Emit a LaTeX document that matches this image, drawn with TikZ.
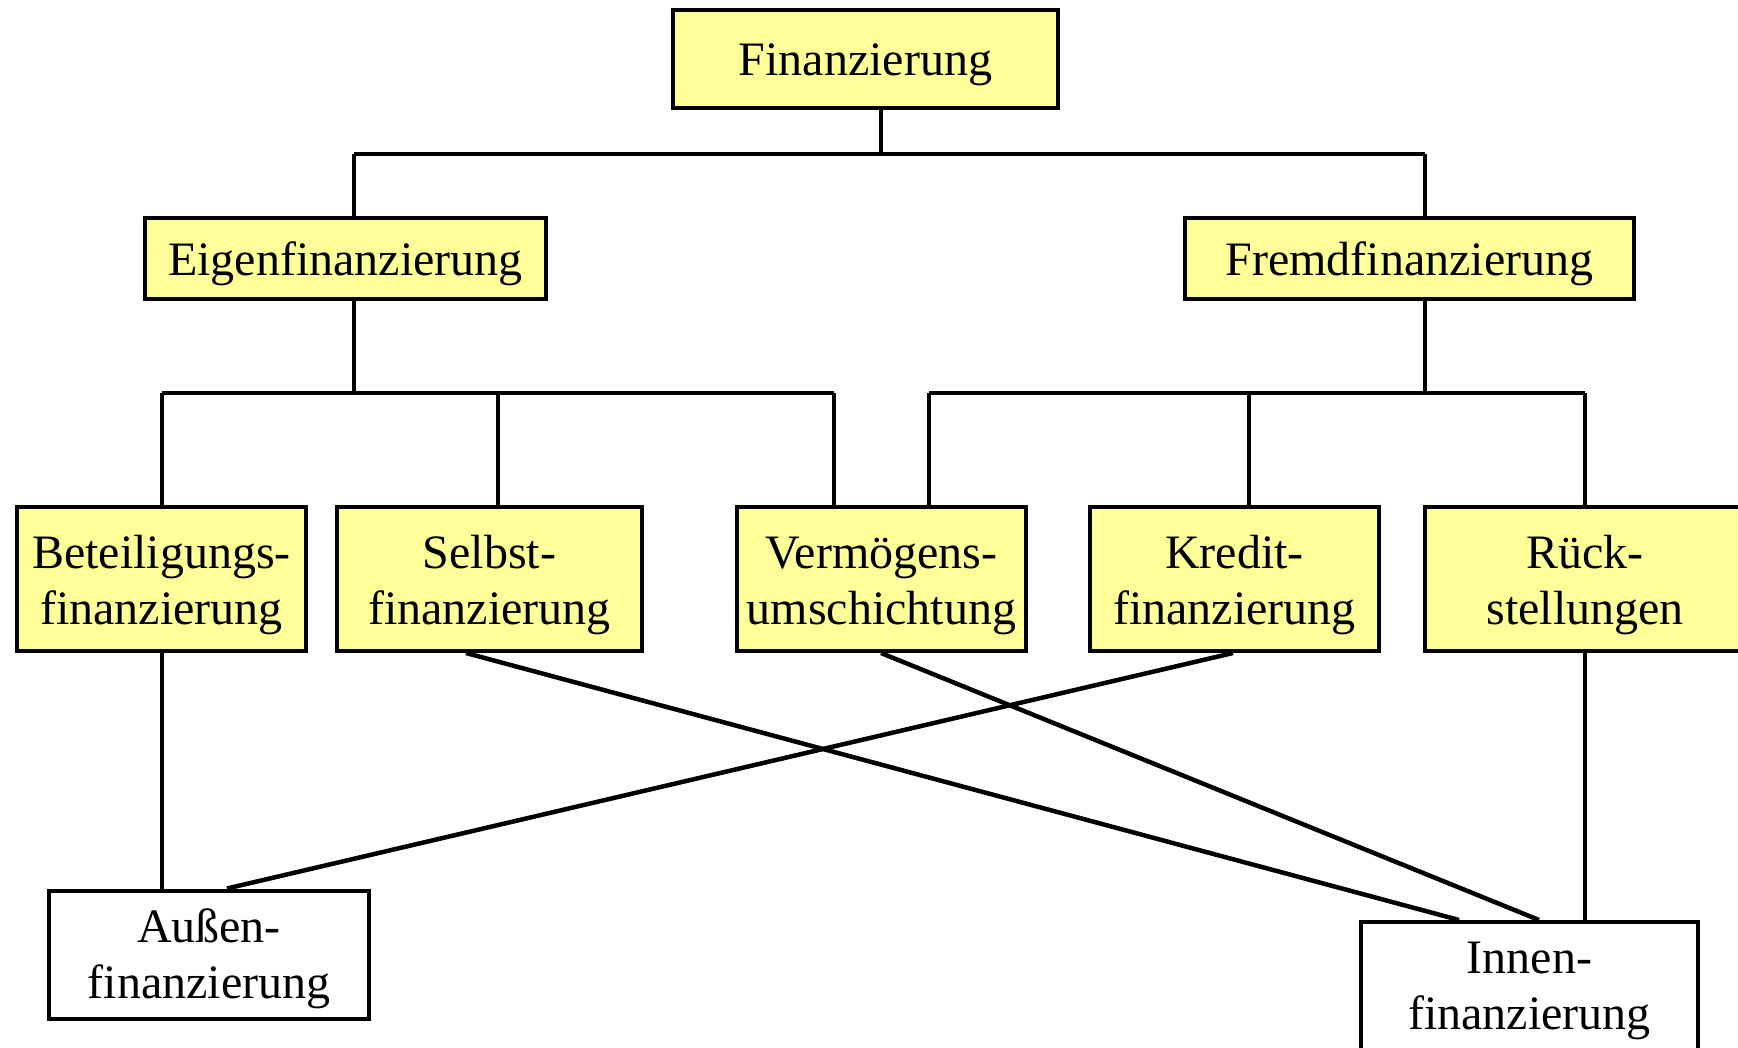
\documentclass[tikz,border=0pt]{standalone}
\usepackage{fontspec}
\setmainfont{Liberation Serif}
\definecolor{boxyellow}{RGB}{255,255,153}
\begin{document}
\begin{tikzpicture}[x=1pt,y=-1pt,
  box/.style={draw=black,line width=4pt,fill=boxyellow,inner sep=0pt,
    align=center,font=\fontsize{48}{56}\selectfont},
  oneline/.style={text height=44.4pt,text depth=10.4pt},
  twoline/.style={text height=100.4pt,text depth=10.4pt},
  plainbox/.style={box,fill=white,text height=97.4pt,text depth=10.4pt},
  tree/.style={line width=3.5pt},
  cross/.style={line width=4.5pt}]
\useasboundingbox (0,0) rectangle (1738,1048);
\clip (0,0) rectangle (1738,1048);
% top level
\node[box,oneline,minimum width=385pt,minimum height=98pt] (fin) at (865.5,59) {Finanzierung};
\node[box,oneline,minimum width=401pt,minimum height=81pt] (eigen) at (345.5,258.5) {Eigenfinanzierung};
\node[box,oneline,minimum width=449pt,minimum height=81pt] (fremd) at (1409.5,258.5) {Fremdfinanzierung};
% third level
\node[box,twoline,minimum width=289pt,minimum height=144pt] (beteil) at (161.5,579) {Beteiligungs-\\finanzierung};
\node[box,twoline,minimum width=305pt,minimum height=144pt] (selbst) at (489.5,579) {Selbst-\\finanzierung};
\node[box,twoline,minimum width=289pt,minimum height=144pt] (verm) at (881.5,579) {Vermögens-\\umschichtung};
\node[box,twoline,minimum width=289pt,minimum height=144pt] (kredit) at (1234.5,579) {Kredit-\\finanzierung};
\node[box,twoline,minimum width=320pt,minimum height=144pt] (rueck) at (1585,579) {Rück-\\stellungen};
% bottom level
\node[plainbox,minimum width=320pt,minimum height=128pt] (aussen) at (209,954.5) {Außen-\\finanzierung};
\node[plainbox,minimum width=337pt,minimum height=128pt] (innen) at (1529.5,986) {Innen-\\finanzierung};
% bus coordinates
\coordinate (t0) at (881,154);
\coordinate (a0) at (354,154);
\coordinate (b0) at (1425,154);
\coordinate (a1) at (354,393);
\coordinate (b1) at (1425,393);
\coordinate (l1) at (162,393);
\coordinate (l2) at (498,393);
\coordinate (l3) at (834,393);
\coordinate (r1) at (929,393);
\coordinate (r2) at (1249,393);
\coordinate (r3) at (1585,393);
% tree connectors
\draw[tree] (fin.south -| t0) -- (t0);
\draw[tree] (a0) -- (b0);
\draw[tree] (a0) -- (a0 |- eigen.north);
\draw[tree] (b0) -- (b0 |- fremd.north);
\draw[tree] (eigen.south -| a1) -- (a1);
\draw[tree] (fremd.south -| b1) -- (b1);
\draw[tree] (l1) -- (l3);
\draw[tree] (r1) -- (r3);
\draw[tree] (l1) -- (l1 |- beteil.north);
\draw[tree] (l2) -- (l2 |- selbst.north);
\draw[tree] (l3) -- (l3 |- verm.north);
\draw[tree] (r1) -- (r1 |- verm.north);
\draw[tree] (r2) -- (r2 |- kredit.north);
\draw[tree] (r3) -- (r3 |- rueck.north);
% crossing connectors
\coordinate (xa) at (162,0);
\coordinate (xb) at (466,0);
\coordinate (xc) at (1459,0);
\coordinate (xd) at (881,0);
\coordinate (xe) at (1539,0);
\coordinate (xf) at (1233,0);
\coordinate (xg) at (227,0);
\coordinate (xh) at (1585,0);
\draw[tree] (beteil.south -| xa) -- (aussen.north -| xa);
\draw[cross] (selbst.south -| xb) -- (innen.north -| xc);
\draw[cross] (verm.south -| xd) -- (innen.north -| xe);
\draw[cross] (kredit.south -| xf) -- (aussen.north -| xg);
\draw[tree] (rueck.south -| xh) -- (innen.north -| xh);
\end{tikzpicture}
\end{document}
